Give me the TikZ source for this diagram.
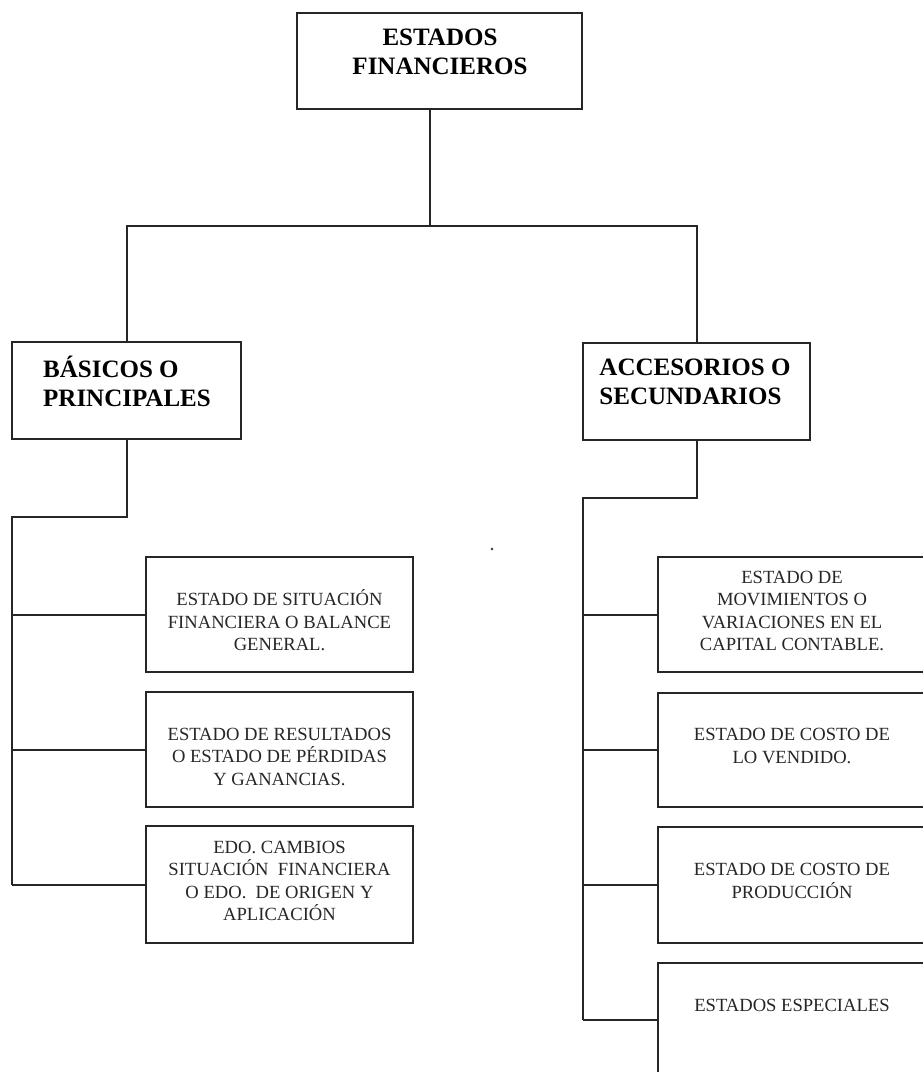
\documentclass[tikz,border=0pt]{standalone}
\usepackage{fontspec}
\setmainfont{Liberation Serif}
\begin{document}
\begin{tikzpicture}[x=1pt,y=-1pt,
  frame/.style={draw=black!85, line width=2pt, inner sep=0pt, outer sep=0pt, rectangle},
  wire/.style={draw=black!85, line width=2pt},
  headtxt/.style={font=\bfseries\fontsize{25}{29}\selectfont, inner sep=0pt},
  bodytxt/.style={font=\fontsize{18.6}{22.5}\selectfont, align=center, inner sep=0pt, text=black!85}]
\useasboundingbox (0,0) rectangle (922,1072);
% top
\node[frame, minimum width=285pt, minimum height=96pt] (top) at (439.5,60.5) {};
\node[headtxt, align=center] (toptxt) at (440,51.5) {ESTADOS\\FINANCIEROS};
% level 2
\node[frame, minimum width=229pt, minimum height=97pt] (bas) at (126.5,390.5) {};
\node[headtxt, align=left] (bastxt) at (127,381.5) {BÁSICOS O\\PRINCIPALES};
\node[frame, minimum width=227pt, minimum height=97pt] (acc) at (696.5,391.5) {};
\node[headtxt, align=left] (acctxt) at (695,382) {ACCESORIOS O\\SECUNDARIOS};
% left children
\node[frame, minimum width=267pt, minimum height=115pt] (L1) at (279.5,614.5) {};
\node[bodytxt] (L1t) at (279.5,620.5) {ESTADO DE SITUACIÓN\\FINANCIERA O BALANCE\\GENERAL.};
\node[frame, minimum width=267pt, minimum height=115pt] (L2) at (279.5,749.5) {};
\node[bodytxt] (L2t) at (279.5,756.5) {ESTADO DE RESULTADOS\\O ESTADO DE PÉRDIDAS\\Y GANANCIAS.};
\node[frame, minimum width=267pt, minimum height=117pt] (L3) at (279.5,884.5) {};
\node[bodytxt] (L3t) at (279.5,881) {EDO. CAMBIOS\\SITUACIÓN\ \ FINANCIERA\\O EDO.\ \ DE ORIGEN Y\\APLICACIÓN};
% right children
\node[frame, minimum width=268pt, minimum height=115pt] (R1) at (792,614.5) {};
\node[bodytxt] (R1t) at (792,611) {ESTADO DE\\MOVIMIENTOS O\\VARIACIONES EN EL\\CAPITAL CONTABLE.};
\node[frame, minimum width=268pt, minimum height=114pt] (R2) at (792,750) {};
\node[bodytxt] (R2t) at (792,746) {ESTADO DE COSTO DE\\LO VENDIDO.};
\node[frame, minimum width=268pt, minimum height=116pt] (R3) at (792,885) {};
\node[bodytxt] (R3t) at (792,881) {ESTADO DE COSTO DE\\PRODUCCIÓN};
\node[frame, minimum width=268pt, minimum height=114pt] (R4) at (792,1020) {};
\node[bodytxt] (R4t) at (792,1005) {ESTADOS ESPECIALES};
% connectors
\coordinate (j0) at (430,226);
\coordinate (lx) at (12,517);
\coordinate (rx) at (583,498);
\draw[wire] (top.south -| j0) -- (j0);
\draw[wire] (bas.north) |- (j0) -| (acc.north);
\draw[wire] (bas.south) |- (lx) -- (lx |- L3.west);
\draw[wire] (lx |- L1.west) -- (L1.west);
\draw[wire] (lx |- L2.west) -- (L2.west);
\draw[wire] (lx |- L3.west) -- (L3.west);
\draw[wire] (acc.south) |- (rx) -- (rx |- R4.west);
\draw[wire] (rx |- R1.west) -- (R1.west);
\draw[wire] (rx |- R2.west) -- (R2.west);
\draw[wire] (rx |- R3.west) -- (R3.west);
\draw[wire] (rx |- R4.west) -- (R4.west);
% speck
\fill[black!80] (492,549) circle (1.3pt);
\end{tikzpicture}
\end{document}
